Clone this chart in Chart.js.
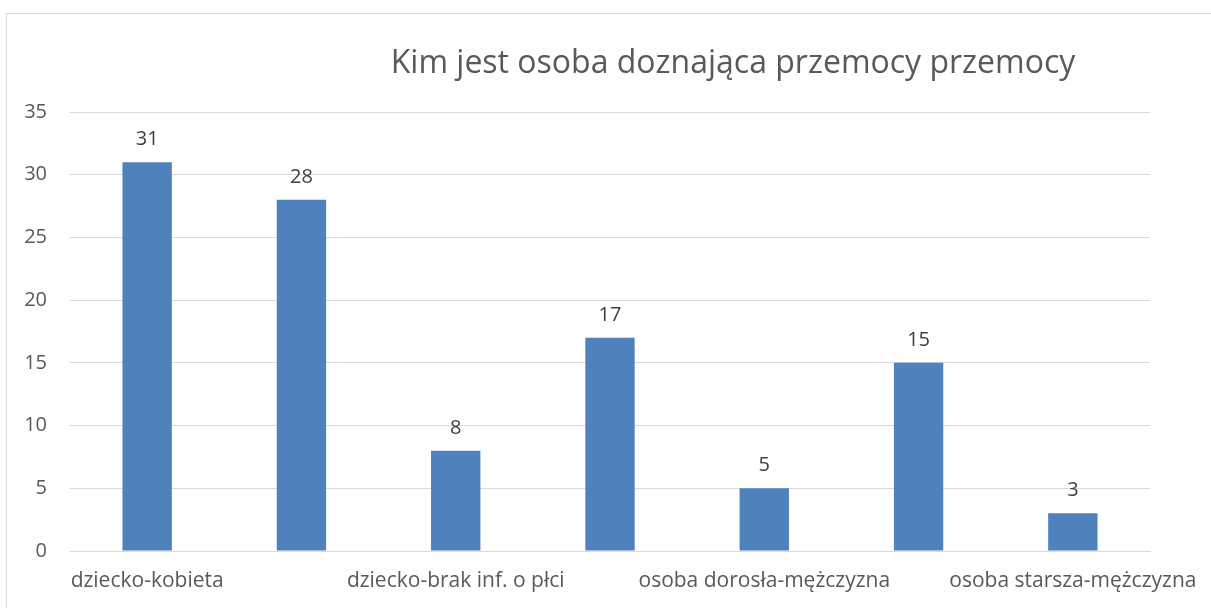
<!DOCTYPE html>
<html>
<head>
<meta charset="utf-8">
<script src="https://cdn.jsdelivr.net/npm/chart.js@4"></script>
<style>
  html, body { margin: 0; padding: 0; background: #fff; overflow: hidden; }
  #wrap { position: relative; width: 1211px; height: 608px; }
  #frame {
    position: absolute; left: 6px; top: 13px; width: 1230px; height: 640px;
    border: 1px solid #d9d9d9; box-sizing: border-box;
  }
  canvas { position: absolute; left: 0; top: 0; }
</style>
</head>
<body>
<div id="wrap">
  <div id="frame"></div>
  <canvas id="chart" width="1211" height="608"></canvas>
</div>
<script>
// dane wykresu
const chartTitle = "Kim jest osoba doznająca przemocy przemocy";
const categories = [
  "dziecko-kobieta",
  "dziecko-mężczyzna",
  "dziecko-brak inf. o płci",
  "osoba dorosła-kobieta",
  "osoba dorosła-mężczyzna",
  "osoba starsza-kobieta",
  "osoba starsza-mężczyzna"
];
const values = [31, 28, 8, 17, 5, 15, 3];
const yTicks = [0, 5, 10, 15, 20, 25, 30, 35];

const FONT = "'Open Sans', 'Noto Sans', sans-serif";
const textColor = "#595959";

// etykiety danych nad słupkami + tytuł
const labelsPlugin = {
  id: "barLabels",
  afterDatasetsDraw(chart) {
    const ctx = chart.ctx;
    const meta = chart.getDatasetMeta(0);
    ctx.save();
    ctx.font = "20px " + FONT;
    ctx.fillStyle = "#404040";
    ctx.textAlign = "center";
    ctx.textBaseline = "alphabetic";
    meta.data.forEach((bar, i) => {
      ctx.fillText(String(values[i]), bar.x, bar.y - 17);
    });
    ctx.restore();
  },
  afterDraw(chart) {
    const ctx = chart.ctx;
    ctx.save();
    ctx.font = "32px " + FONT;
    ctx.fillStyle = textColor;
    ctx.textAlign = "center";
    ctx.textBaseline = "alphabetic";
    ctx.fillText(chartTitle, 733, 73);
    ctx.restore();
  }
};

new Chart(document.getElementById("chart"), {
  type: "bar",
  data: {
    labels: categories,
    datasets: [{
      data: values,
      backgroundColor: "#4f81bd",
      borderWidth: 0,
      barPercentage: 0.32,
      categoryPercentage: 1.0
    }]
  },
  options: {
    responsive: false,
    animation: false,
    layout: { padding: { top: 112, right: 61, bottom: 0, left: 0 } },
    plugins: {
      legend: { display: false },
      title: { display: false },
      tooltip: { enabled: false }
    },
    scales: {
      x: {
        afterFit: (scale) => {
          scale.height = 57;
          // ostatnia etykieta może wychodzić poza obszar wykresu
          scale.paddingLeft = 0;
          scale.paddingRight = 0;
        },
        grid: { display: false, drawTicks: false },
        border: { display: true, color: "#d9d9d9", width: 1 },
        ticks: {
          autoSkip: false,
          maxRotation: 0,
          minRotation: 0,
          padding: 17,
          color: textColor,
          font: { family: FONT, size: 21 },
          callback: function (val, idx) {
            return idx % 2 === 0 ? categories[idx] : "";
          }
        }
      },
      y: {
        min: 0,
        max: 35,
        afterBuildTicks: (scale) => {
          scale.ticks = yTicks.map(v => ({ value: v }));
        },
        afterFit: (scale) => { scale.width = 70; },
        grid: { color: "#d9d9d9", lineWidth: 1, drawTicks: false },
        border: { display: false },
        ticks: {
          padding: 23,
          color: textColor,
          font: { family: FONT, size: 20 }
        }
      }
    }
  },
  plugins: [labelsPlugin]
});
</script>
</body>
</html>
